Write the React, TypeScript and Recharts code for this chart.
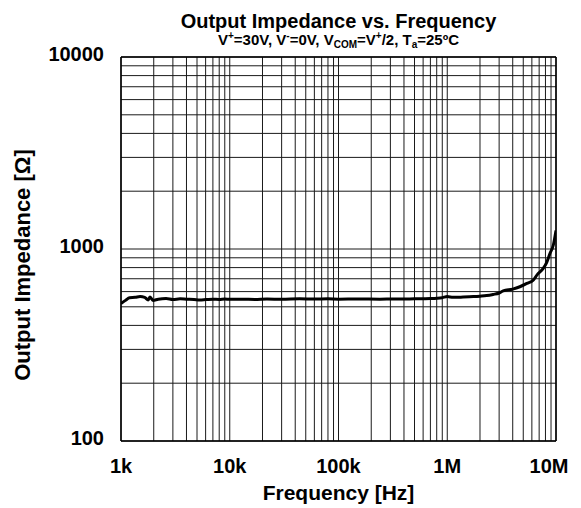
import { Line, LineChart, ReferenceLine, XAxis, YAxis } from "recharts";

const FONT = "'Liberation Sans', Arial, sans-serif";
const INK = "#000000";
const GRID = "#1a1a1a";

// frequency [Hz] / output impedance [ohm]
const freqs = [
  1000, 1100, 1200, 1350, 1500, 1650, 1780, 1850, 1970, 2200, 2600, 3000, 3500,
  4000, 4700, 5300, 6000, 7000, 8000, 9000, 10000, 13000, 17000, 22000, 30000,
  44000, 60000, 80000, 100000, 150000, 240000, 350000, 500000, 700000, 900000,
  1000000, 1130000, 1400000, 1740000, 2000000, 2300000, 2640000, 3000000,
  3270000, 4000000, 4650000, 5400000, 6200000, 6700000, 7600000, 8200000,
  8800000, 9440000, 10000000,
];
const impedance = [
  520, 540, 558, 560, 565, 560, 543, 563, 540, 548, 552, 545, 550, 548, 546,
  543, 545, 548, 546, 549, 547, 548, 546, 549, 547, 550, 549, 550, 548, 549,
  548, 549, 550, 552, 558, 565, 560, 562, 565, 568, 572, 580, 590, 605, 618,
  636, 662, 690, 733, 790, 850, 948, 1046, 1250,
];

const xTicks = [1e3, 1e4, 1e5, 1e6, 1e7];
const xTickLabels = ["1k", "10k", "100k", "1M", "10M"];
const yTicks = [100, 1000, 10000];
const yTickLabels = ["100", "1000", "10000"];

const decadeSteps = [1, 2, 3, 4, 5, 6, 7, 8, 9];
const xGrid = [1e3, 1e4, 1e5, 1e6].flatMap((d) => decadeSteps.map((s) => d * s)).concat([1e7]);
const yGrid = [100, 1000].flatMap((d) => decadeSteps.map((s) => d * s)).concat([10000]);

const data = freqs.map((f, i) => ({ f, z: impedance[i] }));

function XTick({ x, y, payload }: any) {
  const i = xTicks.indexOf(payload.value);
  return (
    <text x={x} y={y + 24} textAnchor="middle" fontFamily={FONT} fontWeight="bold" fontSize={20} fill={INK}>
      {xTickLabels[i]}
    </text>
  );
}

function YTick({ x, y, payload }: any) {
  const i = yTicks.indexOf(payload.value);
  return (
    <text x={x - 9} y={y + 4} textAnchor="end" fontFamily={FONT} fontWeight="bold" fontSize={20} fill={INK}>
      {yTickLabels[i]}
    </text>
  );
}

const sup = { fontSize: 10, position: "relative" as const, top: -6 };
const sub = { fontSize: 10, position: "relative" as const, top: 3 };

export default function App() {
  return (
    <div style={{ position: "absolute", left: 0, top: 0, width: 581, height: 508, background: "#fff", fontFamily: FONT }}>
      <div
        style={{ position: "absolute", left: 121, width: 435, top: 11, textAlign: "center", fontSize: 20, lineHeight: "20px", fontWeight: "bold" }}
      >
        Output Impedance vs. Frequency
      </div>
      <div
        style={{ position: "absolute", left: 121, width: 435, top: 32, textAlign: "center", fontSize: 15, lineHeight: "15px", fontWeight: "bold" }}
      >
        V<span style={sup}>+</span>=30V, V<span style={sup}>-</span>=0V, V<span style={sub}>COM</span>=V
        <span style={sup}>+</span>/2, T<span style={sub}>a</span>=25ºC
      </div>

      <LineChart width={581} height={508} data={data} margin={{ top: 57, right: 25, left: 0, bottom: 0 }}>
        {xGrid.map((v) => (
          <ReferenceLine key={"x" + v} x={v} stroke={GRID} strokeWidth={1} ifOverflow="visible" />
        ))}
        {yGrid.map((v) => (
          <ReferenceLine key={"y" + v} y={v} stroke={GRID} strokeWidth={1} ifOverflow="visible" />
        ))}
        <XAxis
          dataKey="f"
          type="number"
          scale="log"
          domain={[1000, 10000000]}
          ticks={xTicks}
          allowDataOverflow
          height={67}
          tick={<XTick />}
          tickLine={false}
          axisLine={{ stroke: INK, strokeWidth: 1.5 }}
          label={{
            value: "Frequency [Hz]",
            position: "insideBottom",
            offset: 8,
            style: { fontFamily: FONT, fontWeight: "bold", fontSize: 21, fill: INK },
          }}
        />
        <YAxis
          type="number"
          scale="log"
          domain={[100, 10000]}
          ticks={yTicks}
          allowDataOverflow
          width={121}
          tick={<YTick />}
          tickLine={false}
          axisLine={{ stroke: INK, strokeWidth: 1.5 }}
          label={{
            value: "Output Impedance [Ω]",
            angle: -90,
            position: "insideLeft",
            offset: 0,
            dx: 22,
            dy: 16,
            style: { textAnchor: "middle", fontFamily: FONT, fontWeight: "bold", fontSize: 22, fill: INK },
          }}
        />
        <ReferenceLine x={10000000} stroke={INK} strokeWidth={1.5} />
        <ReferenceLine y={10000} stroke={INK} strokeWidth={1.5} />
        <Line
          dataKey="z"
          type="monotone"
          stroke={INK}
          strokeWidth={3}
          dot={false}
          activeDot={false}
          isAnimationActive={false}
        />
      </LineChart>
    </div>
  );
}
